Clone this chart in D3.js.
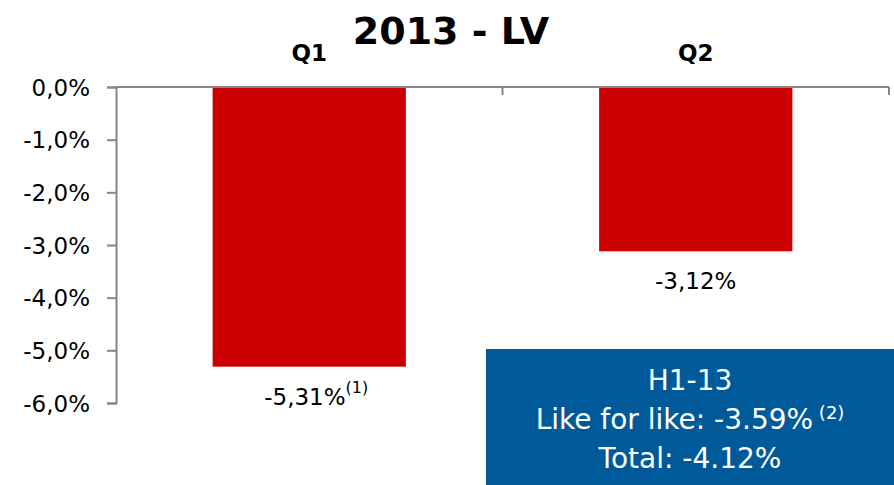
<!DOCTYPE html>
<html>
<head>
<meta charset="utf-8">
<script src="https://cdn.jsdelivr.net/npm/d3@7"></script>
<style>
  html, body { margin: 0; padding: 0; background: #fff; }
  svg { display: block; font-family: "DejaVu Sans", Verdana, sans-serif; }
</style>
</head>
<body>
<svg id="chart" width="894" height="485"></svg>
<script>
// Quarterly like-for-like change, 2013
const categories = ["Q1", "Q2"];
const values = [-5.31, -3.12];
const valueLabels = ["-5,31%", "-3,12%"];
const valueNotes = ["(1)", ""];
const yTicks = [0, -1, -2, -3, -4, -5, -6];
const title = "2013 - LV";
const summaryLines = ["H1-13", "Like for like: -3.59%", "Total: -4.12%"];
const summaryNotes = ["", "(2)", ""];

const svg = d3.select("#chart");
const margin = { left: 116, right: 5, top: 87, bottom: 82 };
const W = 894, H = 485;

const x = d3.scaleBand().domain(categories).range([margin.left, W - margin.right]).paddingInner(0.5).paddingOuter(0.25);
const xOuter = d3.scaleBand().domain(categories).range([margin.left, W - margin.right]);
const y = d3.scaleLinear().domain([0, -6]).range([margin.top, H - margin.bottom]);

const axisColor = "#868686";
const pct = d => d3.format(".1f")(d).replace("\u2212", "-").replace(".", ",") + "%";

// Bars
svg.append("g").selectAll("rect").data(values).join("rect")
  .attr("x", (d, i) => x(categories[i]))
  .attr("width", x.bandwidth())
  .attr("y", y(0))
  .attr("height", d => y(d) - y(0))
  .attr("fill", "#cc0000");

// Y axis
const yAxis = svg.append("g").attr("transform", `translate(${margin.left},0)`)
  .call(d3.axisLeft(y).tickValues(yTicks).tickSize(9).tickPadding(17).tickFormat(pct));
yAxis.select(".domain").attr("stroke", axisColor).attr("stroke-width", 2);
yAxis.selectAll(".tick line").attr("stroke", axisColor).attr("stroke-width", 2);
yAxis.selectAll(".tick text").attr("fill", "#000").attr("font-size", 23)
  .attr("font-family", "DejaVu Sans, sans-serif").attr("dy", "0.35em");

// Category axis along zero line, with tick marks between categories
const xAxisG = svg.append("g");
xAxisG.append("line")
  .attr("x1", margin.left).attr("x2", W - margin.right)
  .attr("y1", y(0)).attr("y2", y(0))
  .attr("stroke", axisColor).attr("stroke-width", 2);
const bounds = categories.map(c => xOuter(c) + xOuter.bandwidth());
xAxisG.selectAll("line.div").data(bounds).join("line").attr("class", "div")
  .attr("x1", d => d).attr("x2", d => d)
  .attr("y1", y(0)).attr("y2", y(0) + 8)
  .attr("stroke", axisColor).attr("stroke-width", 2);

// Category labels above
svg.append("g").selectAll("text").data(categories).join("text")
  .attr("x", d => x(d) + x.bandwidth() / 2)
  .attr("y", 61)
  .attr("text-anchor", "middle")
  .style("font-weight", "bold")
  .style("font-size", "23px")
  .text(d => d);

// Value labels below bars
const vl = svg.append("g").selectAll("text").data(values).join("text")
  .attr("x", (d, i) => x(categories[i]) + x.bandwidth() / 2 + (valueNotes[i] ? 7 : 0))
  .attr("y", d => y(d) + 38)
  .attr("text-anchor", "middle")
  .style("font-size", "23px")
  .attr("fill", "#000");
vl.append("tspan").text((d, i) => valueLabels[i]);
vl.append("tspan").attr("dy", -12).style("font-size", "16px").text((d, i) => valueNotes[i]);

// Title
svg.append("text")
  .attr("x", 451).attr("y", 44)
  .attr("text-anchor", "middle")
  .style("font-weight", "bold")
  .style("font-size", "38px")
  .text(title);

// Summary box
const box = svg.append("g");
box.append("rect").attr("x", 486).attr("y", 349).attr("width", 408).attr("height", 136).attr("fill", "#005a9a");
const st = box.selectAll("text").data(summaryLines).join("text")
  .attr("x", 690).attr("y", (d, i) => 390 + i * 39)
  .attr("text-anchor", "middle")
  .attr("fill", "#fff")
  .style("font-size", "28px");
st.append("tspan").text(d => d);
st.append("tspan").attr("dy", -10).style("font-size", "18px").text((d, i) => summaryNotes[i] ? " " + summaryNotes[i] : "");
</script>
</body>
</html>
